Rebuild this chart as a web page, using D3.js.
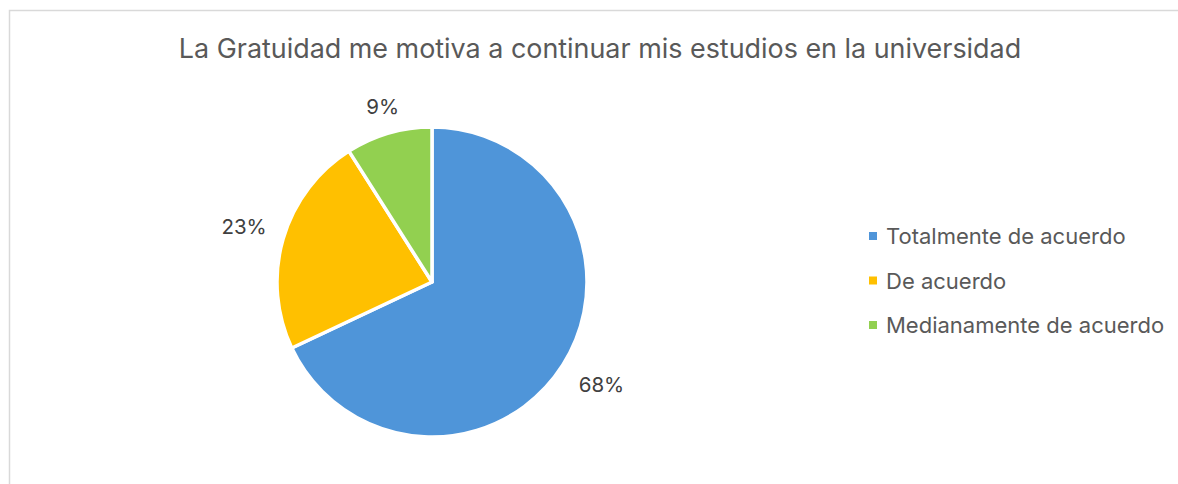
<!DOCTYPE html>
<html>
<head>
<meta charset="utf-8">
<script src="https://cdn.jsdelivr.net/npm/d3@7"></script>
<style>
  html, body { margin: 0; padding: 0; background: #fff; }
  svg { display: block; }
</style>
</head>
<body>
<svg id="chart" width="1178" height="484"></svg>
<script>
const title = "La Gratuidad me motiva a continuar mis estudios en la universidad";
const categories = ["Totalmente de acuerdo", "De acuerdo", "Medianamente de acuerdo"];
const values = [68, 23, 9];
const colors = ["#4f95d9", "#ffc000", "#92d050"];

const svg = d3.select("#chart");
const font = "Inter, 'Open Sans', sans-serif";

// chart frame
svg.append("path")
  .attr("d", "M9.5,490 V10.5 H1190")
  .attr("fill", "none")
  .attr("stroke", "#d9d9d9")
  .attr("stroke-width", 1.5);

// title
svg.append("text")
  .attr("x", 600).attr("y", 58)
  .attr("text-anchor", "middle")
  .attr("font-family", font)
  .attr("font-size", 26.9)
  .attr("fill", "#595959")
  .text(title);

const data = categories.map((c, i) => ({ name: c, value: values[i], color: colors[i] }));

const cx = 432, cy = 282, r = 155;
const pie = d3.pie().value(d => d.value).sort(null);
const arcs = pie(data);
const arc = d3.arc().innerRadius(0).outerRadius(r);

const g = svg.append("g").attr("transform", `translate(${cx},${cy})`);
g.selectAll("path")
  .data(arcs)
  .join("path")
  .attr("d", arc)
  .attr("fill", d => d.data.color)
  .attr("stroke", "#fff")
  .attr("stroke-width", 3.5)
  .attr("stroke-linejoin", "round");

// percentage labels outside the slices
const labelArc = d3.arc().innerRadius(r + 22).outerRadius(r + 22);
const labelOffsets = [[20, 8], [-18, -6], [0, -6]];
g.selectAll("text.pct")
  .data(arcs)
  .join("text")
  .attr("class", "pct")
  .attr("transform", (d, i) => {
    const [x, y] = labelArc.centroid(d);
    return `translate(${x + labelOffsets[i][0]},${y + labelOffsets[i][1]})`;
  })
  .attr("text-anchor", "middle")
  .attr("dominant-baseline", "central")
  .attr("font-family", font)
  .attr("font-size", 20.5)
  .attr("fill", "#404040")
  .text(d => d.data.value + "%");

// legend
const legend = svg.append("g").attr("transform", "translate(869,236)");
const rows = legend.selectAll("g")
  .data(data)
  .join("g")
  .attr("transform", (d, i) => `translate(0,${i * 44.5})`);
rows.append("rect")
  .attr("x", 0).attr("y", -4)
  .attr("width", 8).attr("height", 8)
  .attr("fill", d => d.color);
rows.append("text")
  .attr("x", 17).attr("y", 0)
  .attr("dominant-baseline", "central")
  .attr("font-family", font)
  .attr("font-size", 22)
  .attr("fill", "#595959")
  .text(d => d.name);
</script>
</body>
</html>
